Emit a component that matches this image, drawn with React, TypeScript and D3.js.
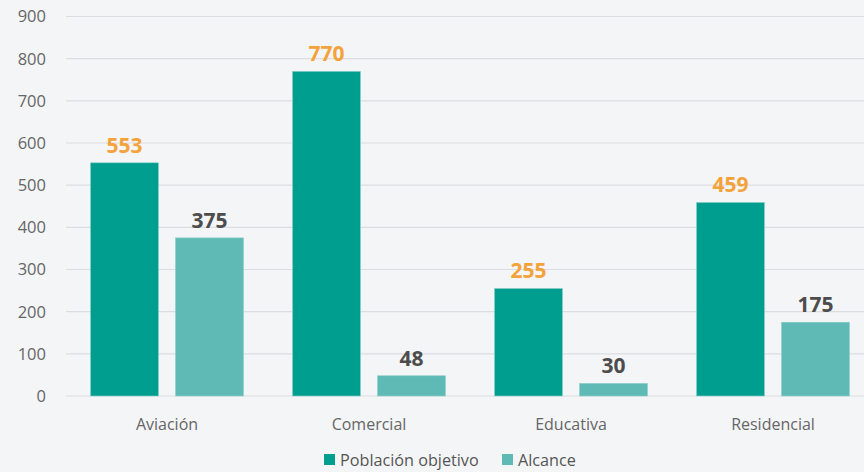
import React from "react";
import * as d3 from "d3";

const categories = ["Aviación", "Comercial", "Educativa", "Residencial"];
const seriesNames = ["Población objetivo", "Alcance"];
const poblacion = [553, 770, 255, 459];
const alcance = [375, 48, 30, 175];
const yTicks = [0, 100, 200, 300, 400, 500, 600, 700, 800, 900];

const W = 864;
const H = 472;
const FONT = "'Open Sans', 'Noto Sans', sans-serif";
const colors = ["#009e8f", "#5fb9b5"];
const labelColors = ["#f4a23b", "#4d4d4d"];

export default function App() {
  const x = d3.scaleBand<string>().domain(categories).range([66, 874]).padding(0);
  const inner = d3
    .scaleBand<string>()
    .domain(seriesNames)
    .range([0, x.bandwidth()])
    .paddingInner(0.2)
    .paddingOuter(0.288);
  const y = d3.scaleLinear().domain([0, 900]).range([396, 16.5]);
  const series = [poblacion, alcance];

  return (
    <div style={{ position: "fixed", left: 0, top: 0 }}>
      <svg width={W} height={H} style={{ display: "block", fontFamily: FONT }}>
        <rect width={W} height={H} fill="#f4f5f7" />
        {yTicks.map((t) => (
          <g key={t}>
            <line x1={66} x2={864} y1={y(t)} y2={y(t)} stroke="#dcdde0" strokeWidth={1.2} />
            <text x={46} y={y(t)} dy="0.36em" textAnchor="end" fontSize={16.5} fill="#666">
              {t}
            </text>
          </g>
        ))}
        {categories.map((c, i) => (
          <g key={c} transform={`translate(${x(c)},0)`}>
            {seriesNames.map((s, j) => {
              const v = series[j][i];
              const bx = inner(s)!;
              const bw = inner.bandwidth();
              return (
                <g key={s}>
                  <rect
                    x={bx}
                    y={y(v)}
                    width={bw}
                    height={y(0) - y(v)}
                    fill={colors[j]}
                    stroke="#8fd0cb"
                    strokeWidth={0.6}
                  />
                  <text
                    x={bx + bw / 2}
                    y={y(v) - 10}
                    textAnchor="middle"
                    fontSize={21}
                    fontWeight={700}
                    fill={labelColors[j]}
                  >
                    {v}
                  </text>
                </g>
              );
            })}
            <text
              x={x.bandwidth() / 2}
              y={430}
              textAnchor="middle"
              fontSize={16}
              fill="#666"
            >
              {c}
            </text>
          </g>
        ))}
        <g>
          <rect x={324} y={454} width={11} height={11} fill={colors[0]} />
          <text x={340} y={465.5} fontSize={16.2} fill="#555">
            {seriesNames[0]}
          </text>
          <rect x={502} y={454} width={11} height={11} fill={colors[1]} />
          <text x={518} y={465.5} fontSize={16.2} fill="#555">
            {seriesNames[1]}
          </text>
        </g>
      </svg>
    </div>
  );
}
